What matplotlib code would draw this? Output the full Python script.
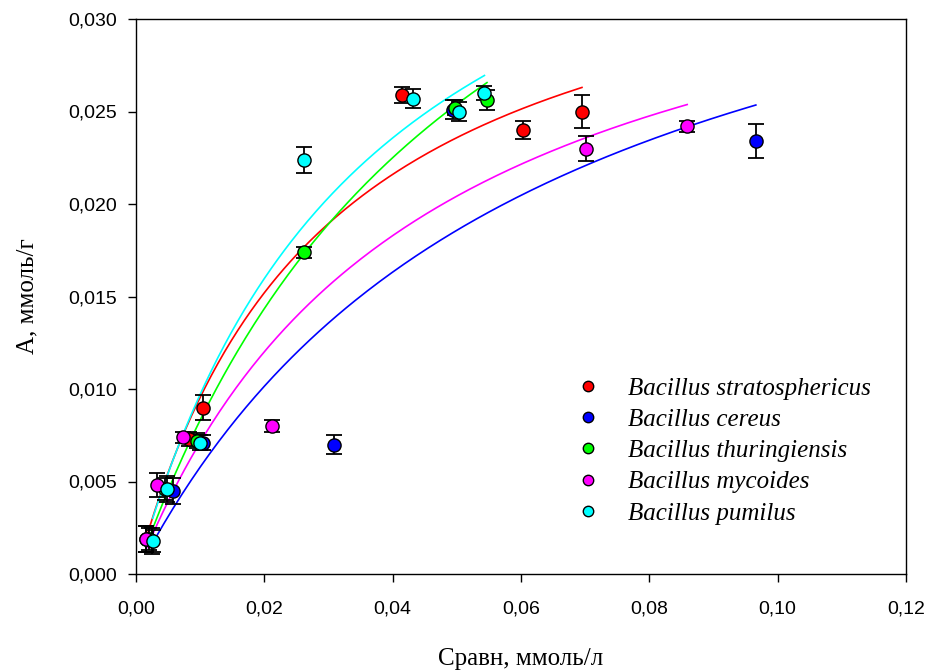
import numpy as np
import matplotlib
matplotlib.use("Agg")
import matplotlib.pyplot as plt
from matplotlib.lines import Line2D
from matplotlib.ticker import FuncFormatter, MultipleLocator

species = ["Bacillus stratosphericus", "Bacillus cereus", "Bacillus thuringiensis",
           "Bacillus mycoides", "Bacillus pumilus"]
colors = ["#ff0000", "#0000ff", "#00ff00", "#ff00ff", "#00ffff"]

# measured points (C eq, mmol/L ; A, mmol/g ; error)
x_strat = [0.0015, 0.0083, 0.0105, 0.0414, 0.0603, 0.0695]
y_strat = [0.0019, 0.0073, 0.0090, 0.0259, 0.0240, 0.0250]
e_strat = [0.0007, 0.0004, 0.0007, 0.00045, 0.0005, 0.0009]

x_cereus = [0.0025, 0.0057, 0.0104, 0.0308, 0.0494, 0.0966]
y_cereus = [0.0018, 0.0045, 0.0071, 0.0070, 0.0251, 0.0234]
e_cereus = [0.0007, 0.0007, 0.0004, 0.0005, 0.0005, 0.0009]

x_thur = [0.0020, 0.0045, 0.0095, 0.0262, 0.0497, 0.0547]
y_thur = [0.0019, 0.0046, 0.0072, 0.0174, 0.0252, 0.0256]
e_thur = [0.0006, 0.0006, 0.0004, 0.0003, 0.0004, 0.00054]

x_myc = [0.0016, 0.0032, 0.0074, 0.0212, 0.0701, 0.0859]
y_myc = [0.0019, 0.0048, 0.0074, 0.0080, 0.0230, 0.0242]
e_myc = [0.0007, 0.00066, 0.0003, 0.0003, 0.0007, 0.0003]

x_pum = [0.0026, 0.0049, 0.0099, 0.0262, 0.0431, 0.0503, 0.0543]
y_pum = [0.0018, 0.0046, 0.0071, 0.0224, 0.0257, 0.0250, 0.0260]
e_pum = [0.0006, 0.0007, 0.0004, 0.0007, 0.0005, 0.00054, 0.0004]

# Langmuir fit parameters: A = Amax*K*C/(1+K*C)
fit_amax = [0.0373, 0.04163, 0.05216, 0.03831, 0.04496]
fit_k = [34.4, 16.12, 18.97, 22.84, 27.55]

xs = [x_strat, x_cereus, x_thur, x_myc, x_pum]
ys = [y_strat, y_cereus, y_thur, y_myc, y_pum]
es = [e_strat, e_cereus, e_thur, e_myc, e_pum]

fig = plt.figure(figsize=(9.3, 6.7), dpi=100)
ax = fig.add_axes([136/930, 1-574/670, 770/930, 555/670])

for i in range(5):
    xmin, xmax = min(xs[i]), max(xs[i])
    xx = np.linspace(xmin, xmax, 200)
    yy = fit_amax[i]*fit_k[i]*xx/(1+fit_k[i]*xx)
    ax.plot(xx, yy, color=colors[i], lw=1.2, zorder=2)

for i in range(5):
    ax.errorbar(xs[i], ys[i], yerr=es[i], fmt='none', ecolor='black',
                elinewidth=1.3, capsize=5.8, capthick=1.3, zorder=3 + i*0.1)
    ax.plot(xs[i], ys[i], 'o', ms=9.5, mfc=colors[i], mec='black', mew=1.0,
            ls='none', zorder=4 + i*0.1)

ax.set_xlim(0, 0.12)
ax.set_ylim(0, 0.030)
ax.xaxis.set_major_locator(MultipleLocator(0.02))
ax.yaxis.set_major_locator(MultipleLocator(0.005))
ax.xaxis.set_major_formatter(FuncFormatter(lambda v, p: f"{v:.2f}".replace(".", ",")))
ax.yaxis.set_major_formatter(FuncFormatter(lambda v, p: f"{v:.3f}".replace(".", ",")))
ax.tick_params(direction='out', length=6, width=1)
ax.tick_params(axis='x', labelsize=14, pad=13)
ax.tick_params(axis='y', labelsize=14, pad=8)
for lab in ax.get_xticklabels() + ax.get_yticklabels():
    lab.set_family("Liberation Sans")
for s in ax.spines.values():
    s.set_linewidth(1.0)

ax.set_xlabel("Сравн, ммоль/л", family="Liberation Serif", fontsize=18, labelpad=22)
ax.set_ylabel("А, ммоль/г", family="Liberation Serif", fontsize=18, labelpad=21)

handles = [Line2D([], [], marker='o', ls='none', ms=7.5, mfc=c, mec='black', mew=1.0)
           for c in colors]
leg = ax.legend(handles, species, loc='upper left', bbox_to_anchor=(0.5416, 0.3954),
                frameon=False, handlelength=1.0, handletextpad=1.1, labelspacing=0.35,
                prop={'family': 'Liberation Serif', 'style': 'italic', 'size': 18})

fig.savefig("out.png", dpi=100)
